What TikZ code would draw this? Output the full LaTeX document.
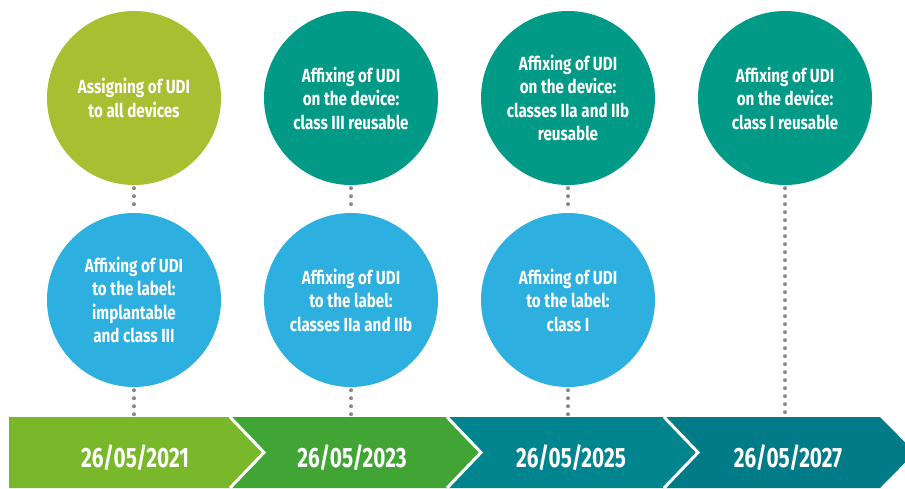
\documentclass[tikz,border=0pt]{standalone}
\usepackage{fontspec}
\newfontfamily\condfont[FakeStretch=0.80]{Fira Sans}
\newfontfamily\datefont[FakeStretch=0.74]{Fira Sans}
\definecolor{limeC}{HTML}{A8BF32}
\definecolor{tealC}{HTML}{009A86}
\definecolor{blueC}{HTML}{2DB0DF}
\definecolor{segA}{HTML}{79B82A}
\definecolor{segB}{HTML}{41A536}
\definecolor{segC}{HTML}{00858F}
\definecolor{segD}{HTML}{007B87}
\definecolor{dotC}{HTML}{888888}
\tikzset{
  bubble/.style={circle, minimum size=174pt, inner sep=0pt, align=center,
    text=white, font=\condfont\bfseries\fontsize{19}{23.5}\selectfont},
  datelabel/.style={anchor=base, text=white, inner sep=0pt,
    font=\datefont\bfseries\fontsize{28}{30}\selectfont},
  dotline/.style={dotC, line width=4pt, line cap=round,
    dash pattern=on 0pt off 8pt},
  sepline/.style={white, line width=3pt}
}
\begin{document}
\begin{tikzpicture}[x=1pt,y=-1pt]
\useasboundingbox (0,0) rectangle (905,488);
% band segments
\fill[segA] (9,417) -- (229,417) -- (263,452.5) -- (229,488) -- (9,488) -- cycle;
\fill[segB] (229,417) -- (446,417) -- (480,452.5) -- (446,488) -- (229,488) -- (263,452.5) -- cycle;
\fill[segC] (446,417) -- (663,417) -- (697,452.5) -- (663,488) -- (446,488) -- (480,452.5) -- cycle;
\fill[segD] (663,417) -- (880,417) -- (915,452.5) -- (880,488) -- (663,488) -- (697,452.5) -- cycle;
\draw[sepline] (230,417) -- (264,452.5) -- (230,488);
\draw[sepline] (447,417) -- (481,452.5) -- (447,488);
\draw[sepline] (664,417) -- (698,452.5) -- (664,488);
% dates
\node[datelabel] (d1) at (135,467) {26/05/2021};
\node[datelabel] (d2) at (352,467) {26/05/2023};
\node[datelabel] (d3) at (571,467) {26/05/2025};
\node[datelabel] (d4) at (788,467) {26/05/2027};
% band top coordinates
\coordinate (b1) at (134,418);
\coordinate (b2) at (351,418);
\coordinate (b3) at (568,418);
\coordinate (b4) at (785,418);
% top circles
\node[bubble, fill=limeC] (t1) at (134,98) {Assigning of UDI\\to all devices};
\node[bubble, fill=tealC] (t2) at (351,98) {Affixing of UDI\\on the device:\\class III reusable};
\node[bubble, fill=tealC] (t3) at (568,98) {Affixing of UDI\\on the device:\\classes IIa and IIb\\reusable};
\node[bubble, fill=tealC] (t4) at (785,98) {Affixing of UDI\\on the device:\\class I reusable};
% bottom circles
\node[bubble, fill=blueC] (u1) at (134,300) {Affixing of UDI\\to the label:\\implantable\\and class III};
\node[bubble, fill=blueC] (u2) at (351,300) {Affixing of UDI\\to the label:\\classes IIa and IIb};
\node[bubble, fill=blueC] (u3) at (568,300) {Affixing of UDI\\to the label:\\class I};
% dotted connectors
\draw[dotline] ([yshift=-3pt]t1.south) -- ([yshift=3pt]u1.north);
\draw[dotline] ([yshift=-3pt]u1.south) -- (b1);
\draw[dotline] ([yshift=-3pt]t2.south) -- ([yshift=3pt]u2.north);
\draw[dotline] ([yshift=-3pt]u2.south) -- (b2);
\draw[dotline] ([yshift=-3pt]t3.south) -- ([yshift=3pt]u3.north);
\draw[dotline] ([yshift=-3pt]u3.south) -- (b3);
\draw[dotline] ([yshift=-3pt]t4.south) -- (b4);
\end{tikzpicture}
\end{document}
